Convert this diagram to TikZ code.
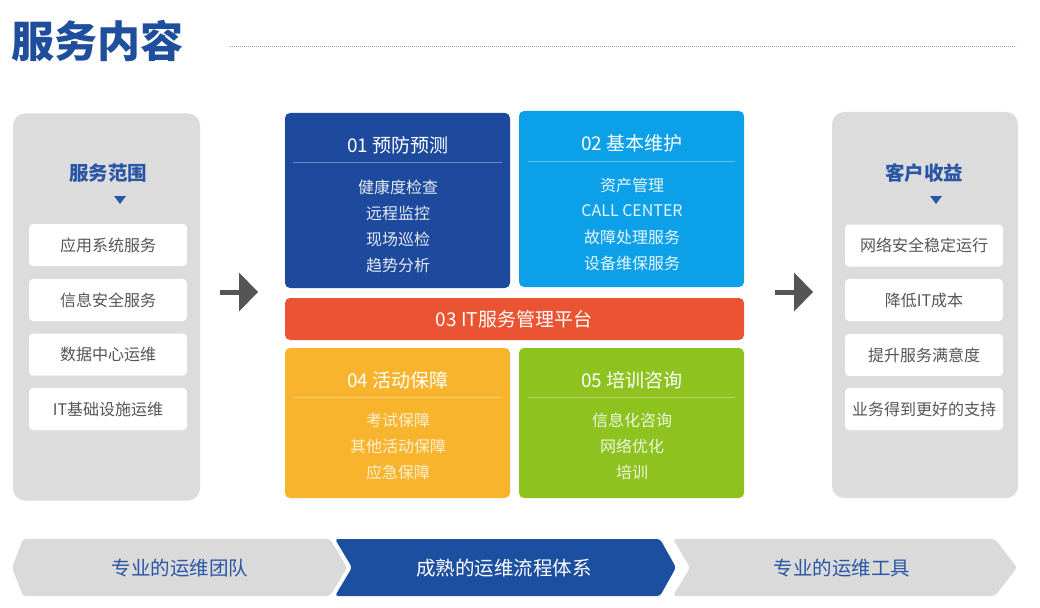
\documentclass[tikz,border=0pt]{standalone}
\usepackage{fontspec}
\setmainfont{Noto Sans CJK SC}
\usetikzlibrary{calc}
\definecolor{titleblue}{HTML}{1F4E9C}
\definecolor{headblue}{HTML}{2A56A6}
\definecolor{panelgray}{HTML}{DCDCDC}
\definecolor{textgray}{HTML}{555555}
\definecolor{arrowgray}{HTML}{555555}
\definecolor{cA}{HTML}{1D4A9C}
\definecolor{cB}{HTML}{0CA0E8}
\definecolor{cC}{HTML}{EA5432}
\definecolor{cD}{HTML}{F7B42C}
\definecolor{cE}{HTML}{8DC21F}
\definecolor{barblue}{HTML}{1D4FA0}
\definecolor{bargray}{HTML}{DADADA}
\definecolor{dotgray}{HTML}{999999}
\begin{document}
\begin{tikzpicture}[x=1pt,y=-1pt,
  panel/.style={fill=panelgray, rounded corners=12pt, minimum width=187pt, minimum height=387pt, inner sep=0},
  itembox/.style={fill=white, rounded corners=4pt, minimum width=158pt, minimum height=42pt, inner sep=0, text=textgray, font=\fontsize{16}{16}\selectfont},
  phead/.style={text=headblue, font=\fontsize{19.5}{19.5}\selectfont\bfseries},
  tri/.style={fill=headblue},
  card/.style={rounded corners=5pt, inner sep=0, minimum width=225pt},
  ctitle/.style={text=white, font=\fontsize{19}{19}\selectfont},
  citem/.style={font=\fontsize{16}{16}\selectfont},
  sep/.style={draw=white, draw opacity=0.35, line width=0.8pt},
  bigarrow/.style={fill=arrowgray},
  shaft/.style={draw=arrowgray, line width=5pt},
  seg/.style={rounded corners=3pt},
  bartext/.style={font=\fontsize{19.5}{19.5}\selectfont}
]
\useasboundingbox (0,0) rectangle (1040,607);
\fill[white] (0,0) rectangle (1040,607);

% title
\node[anchor=west, text=titleblue, font=\fontsize{43}{43}\selectfont\bfseries, inner sep=0] (title) at (11,41) {服务内容};
\coordinate (dl1) at (230,46);
\coordinate (dl2) at (1016,46);
\draw[dotgray, line width=0.7pt, dash pattern=on 0.8pt off 1.2pt] (dl1) -- (dl2);

% left panel
\node[panel] (lp) at (106.5,307) {};
\node[phead] (lph) at (108,173) {服务范围};
\fill[tri] (114,196) -- (126,196) -- (120,204) -- cycle;
\node[itembox] (l1) at (108,245) {应用系统服务};
\node[itembox] (l2) at (108,300) {信息安全服务};
\node[itembox] (l3) at (108,354.5) {数据中心运维};
\node[itembox] (l4) at (108,409) {IT基础设施运维};

% right panel
\node[panel, minimum width=186pt, minimum height=386pt] (rp) at (925,305) {};
\node[phead] (rph) at (924,173) {客户收益};
\fill[tri] (930,196) -- (942,196) -- (936,204) -- cycle;
\node[itembox] (r1) at (924,245.5) {网络安全稳定运行};
\node[itembox] (r2) at (924,300) {降低IT成本};
\node[itembox] (r3) at (924,355) {提升服务满意度};
\node[itembox] (r4) at (924,409) {业务得到更好的支持};

% arrows
\coordinate (a1s) at (220,292);
\coordinate (a1b) at (240,292);
\coordinate (a1t) at (258,292);
\draw[shaft] (a1s) -- (a1b);
\fill[bigarrow] ($(a1b)+(-1,-19.5)$) -- (a1t) -- ($(a1b)+(-1,19.5)$) -- cycle;
\coordinate (a2s) at (775,292);
\coordinate (a2b) at (795,292);
\coordinate (a2t) at (813,292);
\draw[shaft] (a2s) -- (a2b);
\fill[bigarrow] ($(a2b)+(-1,-19.5)$) -- (a2t) -- ($(a2b)+(-1,19.5)$) -- cycle;

% card 01
\node[card, fill=cA, minimum height=175pt] (b1) at (397.5,200.5) {};
\node[ctitle] (b1t) at (398,145) {01 预防预测};
\draw[sep] (293,162) -- (502,162);
\node[citem, text=white!88!cA] (b1a) at (398,187) {健康度检查};
\node[citem, text=white!88!cA] (b1b) at (398,213) {远程监控};
\node[citem, text=white!88!cA] (b1c) at (398,239) {现场巡检};
\node[citem, text=white!88!cA] (b1d) at (398,265) {趋势分析};

% card 02
\node[card, fill=cB, minimum height=176pt] (b2) at (631.5,199) {};
\node[ctitle] (b2t) at (632,143) {02 基本维护};
\draw[sep] (528,161) -- (735,161);
\node[citem, text=white!90!cB] (b2a) at (632,185) {资产管理};
\node[citem, text=white!90!cB] (b2b) at (632,211) {CALL CENTER};
\node[citem, text=white!90!cB] (b2c) at (632,237) {故障处理服务};
\node[citem, text=white!90!cB] (b2d) at (632,263) {设备维保服务};

% card 03
\node[card, fill=cC, minimum width=459pt, minimum height=42pt] (b3) at (514.5,319) {};
\node[ctitle] (b3t) at (514,319) {03 IT服务管理平台};

% card 04
\node[card, fill=cD, minimum height=150pt] (b4) at (397.5,423) {};
\node[ctitle] (b4t) at (398,380) {04 活动保障};
\draw[sep] (293,397) -- (502,397);
\node[citem, text=white!80!cD] (b4a) at (398,420) {考试保障};
\node[citem, text=white!80!cD] (b4b) at (398,446) {其他活动保障};
\node[citem, text=white!80!cD] (b4c) at (398,472) {应急保障};

% card 05
\node[card, fill=cE, minimum height=150pt] (b5) at (631.5,423) {};
\node[ctitle] (b5t) at (632,380) {05 培训咨询};
\draw[sep] (528,397) -- (735,397);
\node[citem, text=white!85!cE] (b5a) at (632,420) {信息化咨询};
\node[citem, text=white!85!cE] (b5b) at (632,446) {网络优化};
\node[citem, text=white!85!cE] (b5c) at (632,472) {培训};

% bottom bar
\fill[seg, bargray] (23,539) -- (330,539) -- (347,567.5) -- (330,596) -- (23,596) -- (12,567.5) -- cycle;
\fill[seg, barblue] (335,539) -- (660,539) -- (676,567.5) -- (660,596) -- (335,596) -- (352,567.5) -- cycle;
\fill[seg, bargray] (673,539) -- (995,539) -- (1017,567.5) -- (995,596) -- (673,596) -- (690,567.5) -- cycle;
\node[bartext, text=headblue] (s1) at (180,568) {专业的运维团队};
\node[bartext, text=white] (s2) at (504,568) {成熟的运维流程体系};
\node[bartext, text=headblue] (s3) at (842,568) {专业的运维工具};
\end{tikzpicture}
\end{document}
